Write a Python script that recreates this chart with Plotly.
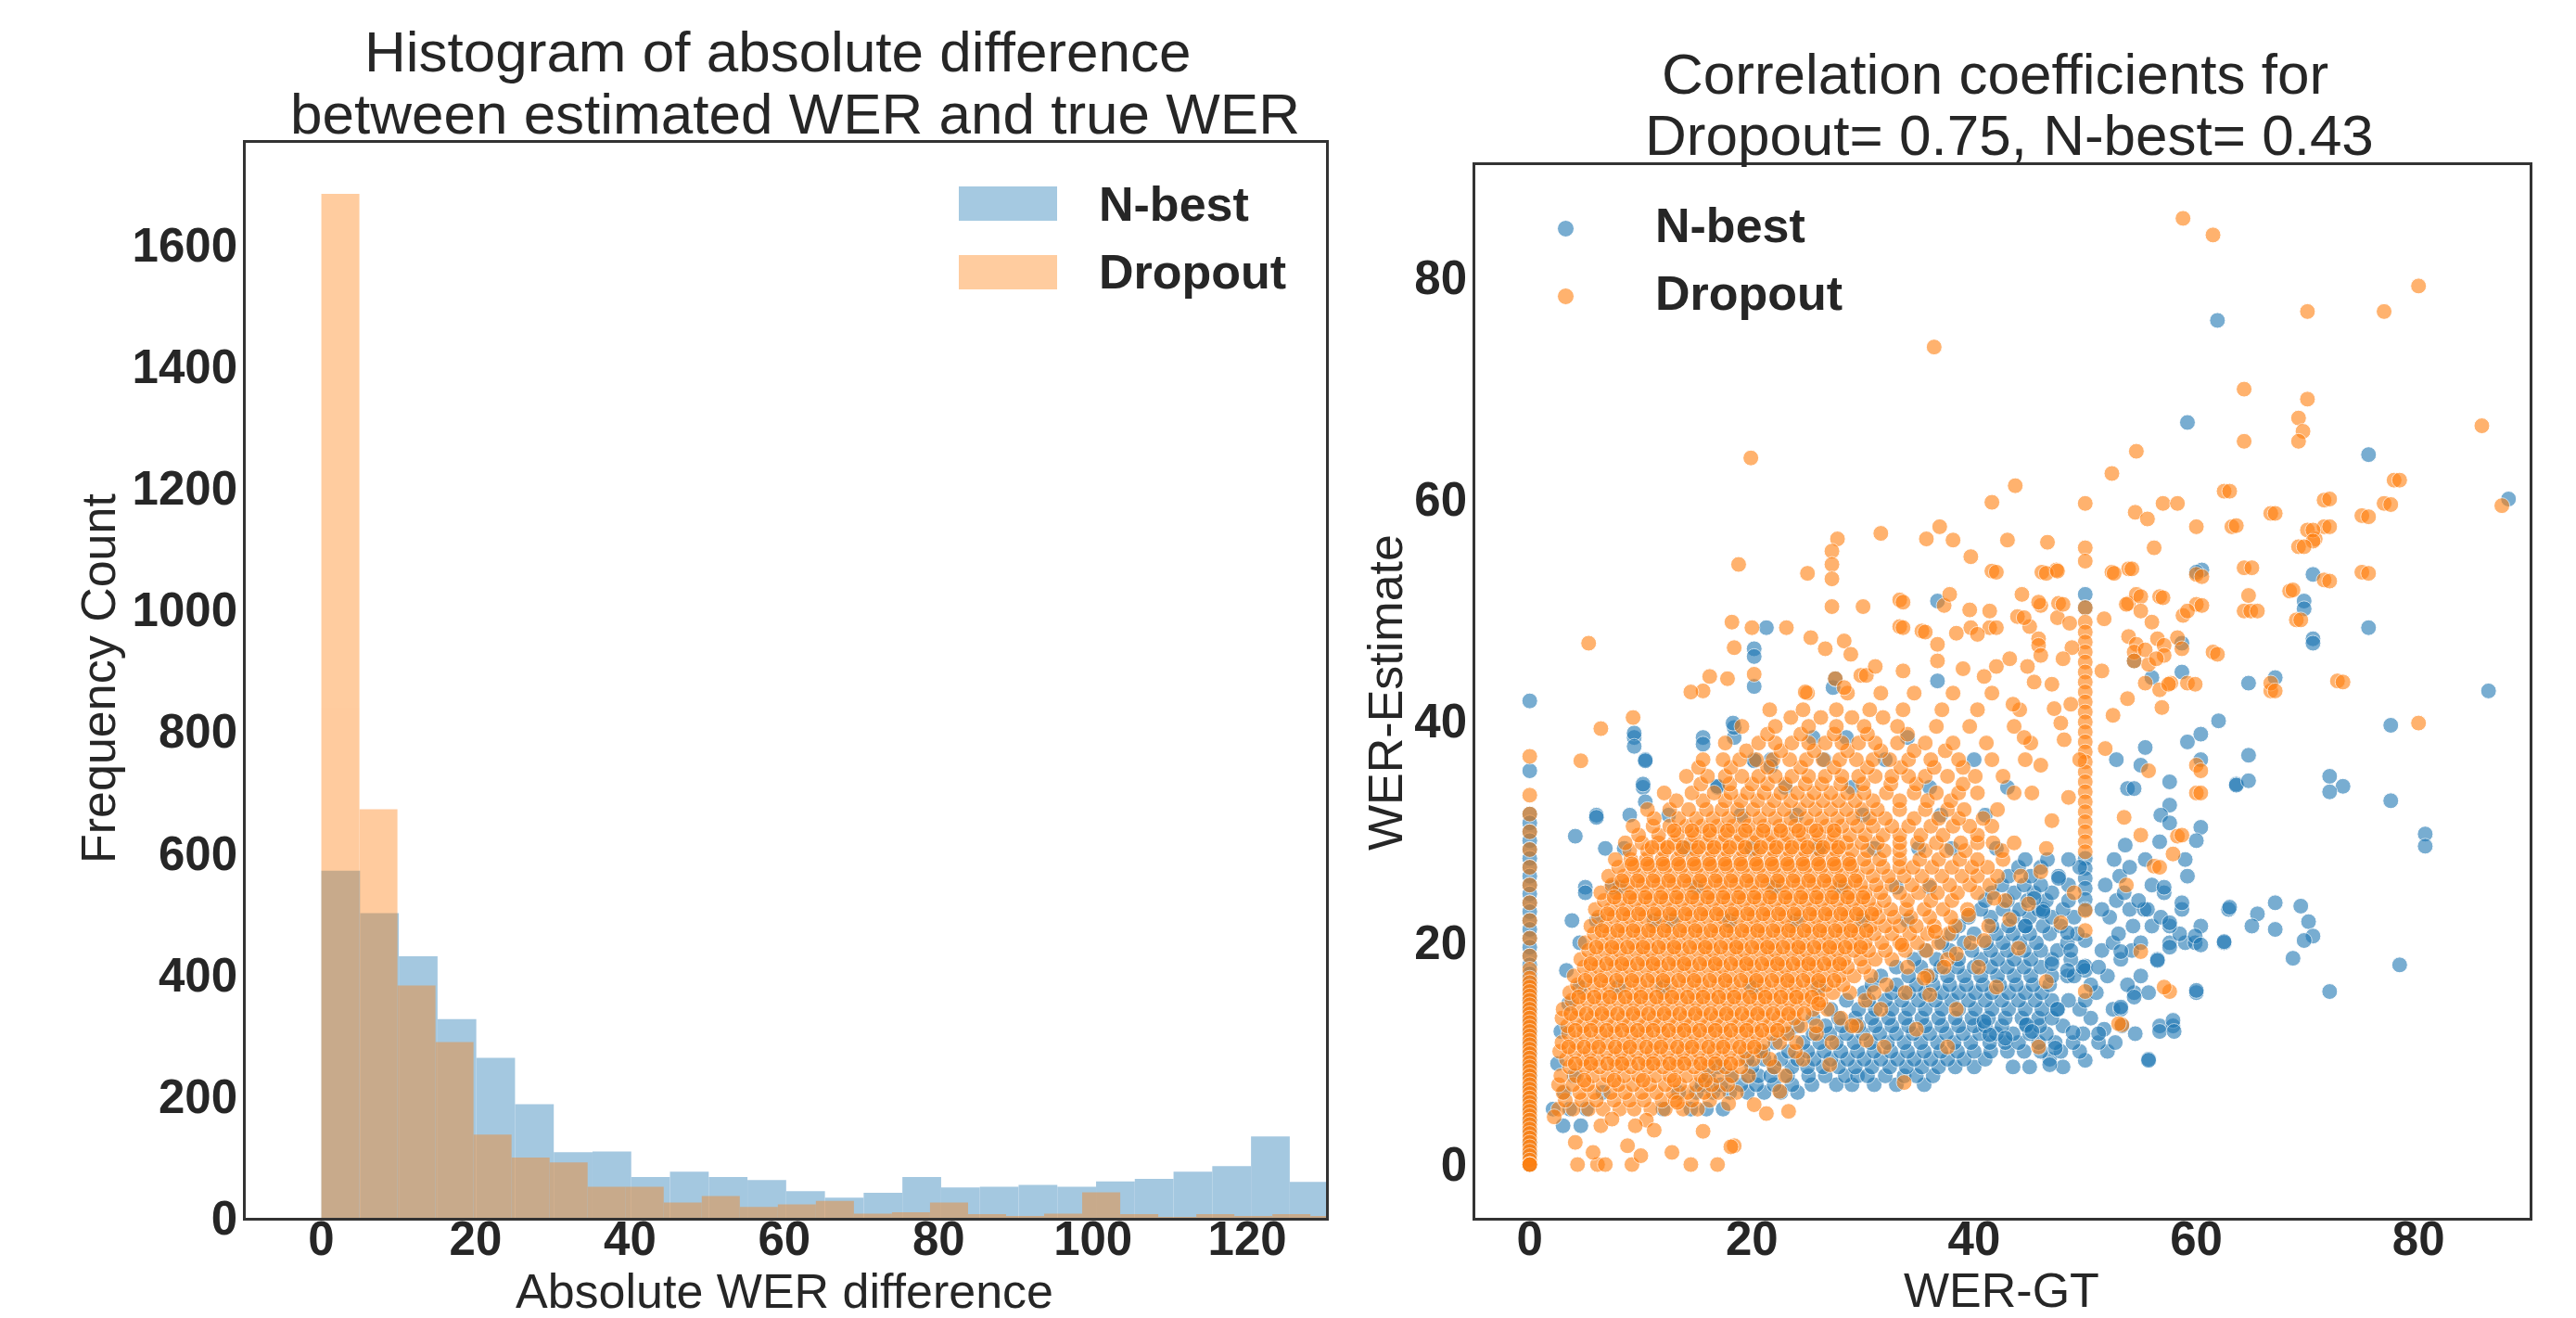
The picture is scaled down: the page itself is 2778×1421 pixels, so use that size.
import plotly.graph_objects as go

# ---------------- histogram data ----------------
nbest_bin_width = 5.02
nbest_counts = [571, 501, 430, 327, 263, 187, 108, 109, 67, 76, 67, 62, 44, 33,
                41, 67, 50, 51, 54, 51, 60, 64, 76, 85, 134, 59, 13]
dropout_bin_width = 4.93
dropout_counts = [1684, 672, 382, 289, 137, 99, 91, 51, 51, 25, 36, 18, 22, 28,
                  7, 9, 25, 6, 3, 7, 42, 6, 1, 6, 3, 6, 3]
hist_x_ticks = [0, 20, 40, 60, 80, 100, 120]
hist_y_ticks = [0, 200, 400, 600, 800, 1000, 1200, 1400, 1600]

# ---------------- scatter data (WER-GT, WER-Estimate) ----------------
scatter_x_ticks = [0, 20, 40, 60, 80]
scatter_y_ticks = [0, 20, 40, 60, 80]

nbest_zero_y = [41.8, 35.5, 31.6, 30.8, 30.0, 29.2, 28.4, 27.6, 26.8, 26.0, 25.2, 24.4,
                23.6, 22.8, 22.0, 21.2, 20.4, 19.6, 18.8, 18.0, 17.2, 16.4, 15.6, 14.8,
                14.0, 13.0, 12.0, 11.0, 10.0, 9.0, 8.0, 7.0, 6.0, 5.0, 4.0, 3.0, 2.0, 1.0, 0.0]
nbest_fifty_y = [51.4, 50.2, 27.6, 26.7, 25.8, 24.9, 23.9, 23.0, 20.2, 17.9, 17.5, 9.4]
nbest_rows = [
    (3.5, [3.0, 4.6]),
    (5.0, [2.1, 3.6, 5.1, 12.0, 14.5, 15.9, 17.4]),
    (6.5, [3.1, 6.6, 13.4, 15.0, 16.5, 18.0, 19.6, 21.1, 22.6, 24.1]),
    (7.2, [15.5, 17.2, 19.0, 20.4, 22.0, 23.6, 25.4, 27.6, 29.0, 31.0, 33.0, 35.5]),
    (8.0, [4.0, 16.1, 18.1, 19.6, 20.6, 21.7, 23.2, 25.1, 26.6, 28.4, 29.5, 30.4, 32.0, 33.7, 34.8, 36.3]),
    (8.8, [17.0, 20.0, 22.0, 23.6, 25.0, 26.4, 27.8, 29.3, 30.8, 32.4, 33.9, 35.3, 36.8, 38.3, 40.0, 43.5, 45.0, 48.0]),
    (9.5, [19.6, 21.1, 22.6, 24.1, 25.6, 27.1, 28.6, 30.1, 31.6, 33.1, 34.6, 36.1, 37.6, 39.1, 41.0, 46.8, 55.7]),
    (10.2, [21.0, 23.3, 25.0, 26.5, 28.0, 29.5, 31.0, 32.5, 34.0, 35.5, 37.0, 38.5, 40.0, 41.5, 43.0, 44.5, 46.0, 47.8, 49.5, 52.0]),
    (11.0, [22.1, 24.6, 26.1, 27.6, 29.2, 30.7, 32.2, 33.7, 35.2, 36.7, 38.2, 39.7, 41.4, 42.8, 44.0, 45.8, 47.3, 48.9, 51.2, 52.7]),
    (11.8, [23.3, 25.5, 27.0, 28.5, 30.0, 31.5, 33.0, 34.5, 36.0, 37.5, 39.0, 40.5, 42.0, 43.5, 45.0, 46.5, 49.8, 54.5]),
    (12.5, [24.1, 26.6, 28.1, 29.6, 31.1, 32.6, 34.1, 35.6, 37.1, 38.6, 40.0, 41.0, 42.5, 44.7, 45.9, 48.0, 53.3, 56.7, 57.9]),
    (13.2, [25.5, 27.8, 29.3, 30.8, 32.3, 33.8, 35.3, 36.8, 38.3, 39.8, 41.3, 42.8, 44.3, 45.8, 47.0, 50.5]),
    (14.0, [27.1, 29.6, 31.1, 32.6, 34.1, 35.6, 37.1, 38.6, 40.1, 41.6, 43.1, 44.6, 46.1, 47.5, 49.5, 52.5, 53.2]),
    (14.8, [28.5, 30.5, 32.0, 33.5, 35.0, 36.5, 38.0, 39.5, 41.0, 42.5, 44.0, 45.5, 47.0, 48.5, 50.0]),
    (15.5, [30.1, 32.6, 34.1, 35.6, 37.1, 38.6, 40.1, 41.6, 43.1, 44.6, 46.1, 51.0, 54.4, 55.7, 60.0]),
    (16.0, [4.5, 8.0, 12.0, 20.0, 26.0]),
    (16.2, [30.8, 33.0, 34.8, 36.3, 37.8, 39.3, 40.8, 42.3, 43.8, 45.3, 46.8, 50.5, 53.8]),
    (17.0, [31.6, 34.1, 36.1, 37.6, 39.1, 40.6, 42.1, 43.6, 45.1, 47.0, 48.4, 49.0, 52.0, 55.0]),
    (17.8, [33.0, 35.2, 37.0, 38.5, 40.0, 41.5, 43.0, 44.5, 46.0, 49.8, 51.2]),
    (18.5, [34.6, 36.6, 38.6, 40.6, 42.1, 43.6, 45.1, 47.0, 48.7, 53.2, 56.5]),
    (19.3, [35.6, 37.8, 39.8, 41.5, 43.0, 44.5, 46.0, 47.5, 51.5, 54.2]),
    (20.0, [37.1, 39.1, 41.1, 42.6, 44.1, 45.6, 48.4, 52.5, 55.0, 57.6, 59.0, 59.9, 62.5]),
    (20.8, [38.0, 40.0, 42.0, 43.5, 45.0, 46.8, 49.3, 53.0, 58.5]),
    (21.5, [38.6, 41.6, 43.1, 44.6, 46.2, 47.8, 54.3, 56.0, 57.6, 60.4]),
    (22.0, [6.0, 11.2, 12.8, 18.0, 24.0, 30.0, 34.0]),
    (22.3, [39.5, 41.5, 43.5, 45.0, 47.0, 49.0, 52.2, 56.8]),
    (23.0, [40.6, 42.6, 44.1, 45.8, 46.2, 48.0, 51.5, 54.0, 55.3, 55.6, 58.7, 62.9]),
    (23.8, [41.0, 43.0, 44.8, 46.5, 48.5, 52.8, 54.8]),
    (24.5, [41.6, 43.6, 45.4, 47.0, 53.5, 57.1]),
    (25.0, [5.0, 7.4, 8.1, 15.0, 22.0, 28.0, 33.0, 36.0]),
    (25.2, [42.5, 44.5, 46.0, 48.5, 51.8, 56.0]),
    (26.0, [43.1, 45.1, 47.6, 53.1, 59.2]),
    (26.8, [44.0, 46.0, 49.5, 54.0]),
    (27.5, [44.6, 46.6, 48.5, 52.6, 55.4, 59.0]),
    (28.5, [6.8, 8.5, 14.0, 20.0, 26.0, 31.0, 35.0, 38.0, 42.0]),
    (31.5, [6.0, 9.0, 12.5, 19.0, 24.0, 30.0, 37.0, 41.0]),
    (34.0, [10.2, 16.9, 23.0, 29.0, 36.0, 43.0]),
    (36.5, [10.4, 20.2, 21.7, 26.5, 32.0, 40.0]),
    (38.5, [9.4, 15.6, 18.4, 25.5, 28.5, 34.0]),
]
nbest_points = [
    (20.2, 43.1), (20.2, 46.5), (20.2, 45.8), (21.3, 48.4), (27.3, 43.0), (27.5, 43.8),
    (36.7, 50.8), (36.7, 43.6), (9.4, 38.9), (9.4, 37.7), (10.4, 36.4), (10.2, 34.3),
    (10.4, 32.7), (15.6, 37.9), (16.9, 34.1), (18.4, 39.4), (20.2, 36.4), (21.7, 35.9),
    (18.3, 39.8), (2.5, 9.1), (3.3, 17.5), (2.8, 12.0), (3.5, 14.5), (4.1, 29.6),
    (5.0, 24.5), (6.0, 31.3), (4.5, 20.0), (3.8, 22.0),
    (53.6, 28.8), (56.7, 29.1), (57.6, 34.5), (57.6, 32.4), (56.8, 31.5), (57.6, 30.8),
    (60.4, 30.4), (55.4, 37.6), (55.0, 36.0), (52.8, 36.5), (53.8, 33.9), (54.4, 33.9),
    (62.0, 40.0), (59.2, 38.1), (60.4, 38.8), (60.4, 36.5), (63.6, 34.3), (60.0, 29.2),
    (57.1, 25.0), (58.7, 23.6), (57.6, 21.8), (59.9, 20.6), (60.4, 19.8), (57.6, 19.6),
    (57.9, 13.0), (56.7, 12.0), (55.7, 9.4), (51.7, 12.2), (51.2, 11.8), (53.2, 19.2),
    (56.5, 18.4), (54.4, 15.1), (53.2, 14.2), (47.3, 10.5), (46.8, 9.0), (44.7, 12.6),
    (45.2, 12.0), (42.8, 11.4), (41.4, 11.7), (40.9, 12.9), (48.9, 11.9), (47.5, 14.0),
    (47.0, 18.1), (48.4, 17.5), (48.7, 19.3), (48.4, 20.9), (46.2, 22.8), (47.6, 25.8),
    (45.4, 24.0), (44.6, 21.5),
    (64.7, 43.4), (64.7, 36.9), (63.6, 34.2), (64.7, 34.6), (72.0, 35.0), (73.2, 34.1),
    (72.0, 33.6), (77.5, 32.8), (80.6, 29.8), (80.6, 28.7), (63.0, 23.2), (65.5, 22.6),
    (65.0, 21.5), (67.1, 23.6), (67.1, 21.2), (69.4, 23.3), (70.1, 21.9), (70.5, 20.6),
    (69.7, 20.2), (68.7, 18.6), (78.3, 18.0), (72.0, 15.6), (77.5, 39.6), (86.3, 42.7),
    (75.5, 48.4), (70.5, 47.4), (70.5, 47.0), (69.7, 50.8), (69.7, 50.1), (70.5, 53.2),
    (75.5, 64.0), (88.1, 60.0), (59.2, 66.9), (61.9, 76.1), (60.5, 53.6), (56.0, 43.9),
    (58.7, 44.4), (58.7, 47.0), (54.4, 45.4), (67.1, 43.9), (60.0, 53.4), (62.5, 20.1),
    (60.0, 15.7), (58.0, 12.0),
]

dropout_zero_y = [36.8, 33.3, 31.6, 30.0, 28.4, 26.8, 25.2, 23.6, 22.0, 20.4, 18.8, 17.6,
                  16.8, 16.4, 16.0, 15.6, 15.2, 14.8, 14.4, 14.0, 13.6, 13.2, 12.8, 12.4,
                  12.0, 11.6, 11.2, 10.8, 10.4, 10.0, 9.6, 9.2, 8.8, 8.4, 8.0, 7.6, 7.2,
                  6.8, 6.4, 6.0, 5.6, 5.2, 4.8, 4.4, 4.0, 3.6, 3.2, 2.8, 2.4, 2.0, 1.6,
                  1.2, 0.8, 0.4, 0.0, 0.0, 0.0]
dropout_fifty_y = [59.6, 55.6, 54.4, 50.2, 48.9, 48.0, 47.1, 46.2, 45.3, 44.4, 43.5, 42.6,
                   41.7, 40.8, 39.9, 39.0, 38.1, 37.2, 36.3, 35.4, 34.5, 33.6, 32.7, 31.8,
                   30.9, 30.0, 29.1, 28.2, 22.9, 21.1, 15.6]
dropout_rows = [
    (5.0, [2.6, 3.9, 5.3, 6.6, 8.1, 9.4, 10.9, 12.2, 13.8, 15.1]),
    (5.8, [3.2, 4.7, 6.0, 7.6, 9.0, 10.3, 11.9, 13.1, 14.6, 16.2]),
    (6.5, [3.0, 4.5, 5.8, 7.3, 8.6, 10.1, 11.4, 12.9, 14.2, 15.7, 17.0, 18.6]),
    (7.2, [2.6, 3.9, 5.2, 6.6, 8.0, 9.3, 10.8, 12.2, 13.5, 15.0, 16.4, 17.8]),
    (8.0, [2.8, 4.2, 5.7, 7.0, 8.5, 9.8, 11.3, 12.6, 14.1, 15.4, 16.9, 18.2, 19.7, 23.0]),
    (8.8, [3.6, 5.0, 6.3, 7.8, 9.1, 10.6, 12.0, 13.3, 14.8, 16.1, 17.6, 19.0, 22.0]),
    (9.5, [3.3, 4.8, 6.1, 7.6, 8.9, 10.4, 11.7, 13.2, 14.5, 16.0, 17.3, 18.8, 20.1, 21.6, 24.6]),
    (10.2, [2.7, 4.1, 5.4, 6.9, 8.2, 9.6, 11.0, 12.4, 13.8, 15.2, 16.6, 18.0, 19.4, 20.8, 23.9]),
    (11.0, [2.9, 4.2, 5.7, 7.0, 8.5, 9.8, 11.3, 12.6, 14.1, 15.4, 16.9, 18.2, 19.7, 21.0, 22.5, 24.0, 27.2]),
    (11.8, [3.5, 4.9, 6.4, 7.7, 9.2, 10.5, 12.0, 13.4, 14.8, 16.2, 17.6, 19.0, 20.4, 21.8, 23.2, 25.8]),
    (12.5, [3.4, 4.8, 6.1, 7.6, 8.9, 10.4, 11.7, 13.2, 14.5, 16.0, 17.3, 18.8, 20.1, 21.6, 22.9, 24.4, 25.8, 29.4]),
    (13.2, [2.9, 4.2, 5.6, 7.0, 8.4, 9.8, 11.2, 12.6, 14.0, 15.4, 16.8, 18.2, 19.6, 21.0, 22.4, 23.8, 28.0]),
    (14.0, [3.0, 4.4, 5.9, 7.2, 8.7, 10.0, 11.5, 12.8, 14.3, 15.6, 17.1, 18.4, 19.9, 21.2, 22.7, 24.0, 25.5, 26.8, 31.6]),
    (14.8, [3.8, 5.2, 6.6, 8.0, 9.4, 10.8, 12.2, 13.6, 15.0, 16.4, 17.8, 19.2, 20.6, 22.0, 23.4, 24.8, 26.2, 30.2]),
    (15.5, [3.6, 4.9, 6.4, 7.7, 9.2, 10.5, 12.0, 13.3, 14.8, 16.1, 17.6, 18.9, 20.4, 21.7, 23.2, 24.5, 26.0, 27.3, 28.8, 33.8]),
    (16.2, [4.3, 5.8, 7.1, 8.6, 9.9, 11.4, 12.7, 14.2, 15.5, 17.0, 18.3, 19.8, 21.1, 22.6, 23.9, 25.4, 26.7, 28.2, 32.1]),
    (17.0, [4.0, 5.5, 6.8, 8.3, 9.6, 11.1, 12.4, 13.9, 15.2, 16.7, 18.0, 19.5, 20.8, 22.3, 23.6, 25.1, 26.4, 27.9, 29.2, 30.7, 35.8]),
    (17.8, [4.9, 6.2, 7.7, 9.0, 10.5, 11.8, 13.3, 14.6, 16.1, 17.4, 18.9, 20.2, 21.7, 23.0, 24.5, 25.8, 27.3, 28.6, 30.1, 34.0]),
    (18.5, [4.6, 5.9, 7.4, 8.7, 10.2, 11.5, 13.0, 14.3, 15.8, 17.1, 18.6, 19.9, 21.4, 22.7, 24.2, 25.5, 27.0, 28.3, 29.8, 31.1, 32.6, 37.6]),
    (19.3, [5.3, 6.8, 8.1, 9.6, 10.9, 12.4, 13.7, 15.2, 16.5, 18.0, 19.3, 20.8, 22.1, 23.6, 24.9, 26.4, 27.7, 29.2, 30.5, 32.0, 33.8, 35.7]),
    (20.0, [5.0, 6.5, 7.8, 9.3, 10.6, 12.1, 13.4, 14.9, 16.2, 17.7, 19.0, 20.5, 21.8, 23.3, 24.6, 26.1, 27.4, 28.9, 30.2, 31.7, 33.3, 34.9, 36.8, 39.7]),
    (20.8, [5.8, 7.2, 8.6, 10.0, 11.4, 12.8, 14.2, 15.6, 17.0, 18.4, 19.8, 21.2, 22.6, 24.0, 25.4, 26.8, 28.2, 29.6, 31.0, 32.6, 34.2, 35.8, 37.7]),
    (21.5, [5.5, 6.8, 8.3, 9.6, 11.1, 12.4, 13.9, 15.2, 16.7, 18.0, 19.5, 20.8, 22.3, 23.6, 25.1, 26.4, 27.9, 29.2, 30.7, 32.0, 33.3, 34.8, 36.4, 38.3, 41.3]),
    (22.3, [6.2, 7.6, 9.0, 10.4, 11.8, 13.2, 14.6, 16.0, 17.4, 18.8, 20.2, 21.6, 23.0, 24.4, 25.8, 27.2, 28.6, 30.0, 31.4, 32.8, 34.3, 36.0, 37.9]),
    (23.0, [5.9, 7.3, 8.7, 10.1, 11.5, 12.9, 14.3, 15.7, 17.1, 18.5, 19.9, 21.3, 22.7, 24.1, 25.5, 26.9, 28.3, 29.7, 31.1, 32.5, 33.9, 35.5, 37.2, 39.4]),
    (23.8, [6.7, 8.1, 9.5, 10.9, 12.3, 13.7, 15.1, 16.5, 17.9, 19.3, 20.7, 22.1, 23.5, 24.9, 26.3, 27.7, 29.1, 30.5, 31.9, 34.0, 36.1, 38.0, 42.8]),
    (24.5, [6.4, 7.8, 9.2, 10.6, 12.0, 13.4, 14.8, 16.2, 17.6, 19.0, 20.4, 21.8, 23.2, 24.6, 26.0, 27.4, 28.8, 30.2, 31.6, 33.3, 35.0, 36.7, 38.5, 40.3]),
    (25.2, [7.4, 8.8, 10.2, 11.6, 13.0, 14.4, 15.8, 17.2, 18.6, 20.0, 21.4, 22.8, 24.2, 25.6, 27.0, 28.4, 29.8, 31.2, 32.6, 34.4, 36.0, 37.8, 39.6, 41.4]),
    (26.0, [7.1, 8.5, 9.9, 11.3, 12.7, 14.1, 15.5, 16.9, 18.3, 19.7, 21.1, 22.5, 23.9, 25.3, 26.7, 28.1, 29.5, 30.9, 32.3, 33.7, 35.3, 37.1, 38.9, 40.3, 42.1, 44.2]),
    (26.8, [8.0, 9.4, 10.8, 12.2, 13.6, 15.0, 16.4, 17.8, 19.2, 20.6, 22.0, 23.4, 24.8, 26.2, 27.6, 29.0, 30.4, 31.8, 33.3, 34.5, 36.2, 38.0, 39.8, 41.2]),
    (27.5, [7.7, 9.1, 10.5, 11.9, 13.3, 14.7, 16.1, 17.5, 18.9, 20.3, 21.7, 23.1, 24.5, 25.9, 27.3, 28.7, 30.1, 31.5, 33.3, 35.1, 36.8, 38.7, 40.3, 42.6]),
    (28.3, [9.0, 10.6, 12.1, 13.6, 15.0, 16.4, 17.8, 19.2, 20.6, 22.0, 23.4, 24.8, 26.2, 27.6, 29.0, 30.4, 31.9, 33.3, 35.6, 37.5, 39.2, 42.5]),
    (29.0, [8.6, 10.1, 11.6, 13.0, 14.5, 15.9, 17.3, 18.7, 20.1, 21.5, 22.9, 24.3, 25.7, 27.1, 28.5, 29.9, 31.3, 33.3, 34.9, 36.6, 38.8, 40.3, 41.7, 43.6]),
    (29.7, [9.8, 11.6, 13.3, 14.8, 16.2, 17.6, 19.0, 20.4, 21.8, 23.2, 24.6, 26.0, 27.4, 28.8, 30.2, 31.8, 33.3, 35.2, 37.2, 40.3]),
    (30.5, [9.3, 11.1, 12.6, 14.1, 15.5, 16.9, 18.3, 19.7, 21.1, 22.5, 23.9, 25.3, 26.7, 28.1, 29.5, 30.9, 32.6, 34.1, 36.1, 38.1, 39.6, 41.6]),
    (31.2, [11.2, 13.4, 15.0, 16.5, 17.9, 19.3, 20.7, 22.1, 23.5, 24.9, 26.3, 27.7, 29.1, 30.6, 32.0, 34.6, 36.8, 38.6, 40.8]),
    (32.0, [10.6, 12.6, 14.3, 15.9, 17.3, 18.7, 20.1, 21.5, 22.9, 24.3, 25.7, 27.1, 28.5, 29.9, 31.3, 33.3, 35.6, 37.6, 39.1, 42.1]),
    (32.8, [13.2, 15.6, 17.6, 19.0, 20.5, 22.0, 23.5, 25.0, 26.4, 27.8, 29.3, 30.9, 33.3, 35.8, 37.9]),
    (33.5, [12.1, 14.6, 16.6, 18.1, 19.6, 21.1, 22.6, 24.1, 25.6, 27.1, 28.6, 30.1, 32.1, 34.6, 36.6, 38.6, 40.3, 43.6]),
    (34.3, [15.4, 18.0, 20.0, 21.4, 23.0, 24.8, 26.3, 28.0, 30.0, 32.5, 34.8, 39.0]),
    (35.0, [14.1, 16.0, 17.6, 19.1, 20.6, 22.1, 23.6, 25.1, 26.6, 28.1, 29.6, 31.1, 32.6, 34.1, 35.6, 37.6, 40.1, 42.6]),
    (35.8, [15.2, 18.1, 21.4, 24.4, 27.4, 30.4, 33.4, 36.4, 39.0]),
    (36.5, [15.6, 17.4, 18.9, 20.4, 21.9, 23.4, 24.9, 26.4, 27.9, 29.4, 30.9, 32.4, 34.1, 36.1, 38.6, 41.6, 44.6]),
    (37.3, [19.5, 22.6, 25.6, 28.6, 31.6, 34.6, 37.4]),
    (38.0, [17.6, 20.6, 22.1, 23.6, 25.1, 26.6, 28.1, 29.6, 31.1, 33.1, 35.6, 38.1, 41.1, 45.1]),
    (38.8, [21.4, 24.4, 27.4, 30.4, 34.0]),
    (39.5, [19.1, 22.1, 25.1, 27.6, 30.1, 33.1, 36.6, 39.6, 43.6]),
    (40.3, [23.5, 26.2, 29.0, 31.8]),
    (41.0, [21.6, 24.6, 27.6, 30.6, 33.6, 37.1, 40.3, 44.1]),
    (42.5, [25.0, 28.6, 31.6, 34.6, 38.1, 41.6]),
]
dropout_core_rows = [
    (7.6, [4.9, 7.6, 10.2, 13.0, 15.8]),
    (9.1, [4.1, 5.5, 7.0, 8.3, 9.8, 11.1, 12.6, 13.9, 15.4, 16.7, 18.1]),
    (10.6, [3.5, 4.9, 6.2, 7.7, 9.0, 10.5, 11.8, 13.3, 14.6, 16.1, 17.4, 18.9, 20.2]),
    (12.1, [4.1, 5.5, 6.9, 8.3, 9.7, 11.1, 12.5, 13.9, 15.3, 16.7, 18.1, 19.5, 20.9, 22.3]),
    (13.6, [3.7, 5.1, 6.5, 7.9, 9.3, 10.7, 12.1, 13.5, 14.9, 16.3, 17.7, 19.1, 20.5, 21.9, 23.3, 24.7]),
    (15.1, [4.4, 5.8, 7.2, 8.6, 10.0, 11.4, 12.8, 14.2, 15.6, 17.0, 18.4, 19.8, 21.2, 22.6, 24.0, 25.4]),
    (16.6, [5.0, 6.4, 7.8, 9.2, 10.6, 12.0, 13.4, 14.8, 16.2, 17.6, 19.0, 20.4, 21.8, 23.2, 24.6, 26.0, 27.4]),
    (18.1, [5.5, 6.9, 8.3, 9.7, 11.1, 12.5, 13.9, 15.3, 16.7, 18.1, 19.5, 20.9, 22.3, 23.7, 25.1, 26.5, 27.9]),
    (19.6, [6.0, 7.4, 8.8, 10.2, 11.6, 13.0, 14.4, 15.8, 17.2, 18.6, 20.0, 21.4, 22.8, 24.2, 25.6, 27.0, 28.4, 29.8]),
    (21.1, [6.5, 7.9, 9.3, 10.7, 12.1, 13.5, 14.9, 16.3, 17.7, 19.1, 20.5, 21.9, 23.3, 24.7, 26.1, 27.5, 28.9, 30.3]),
    (22.6, [7.0, 8.4, 9.8, 11.2, 12.6, 14.0, 15.4, 16.8, 18.2, 19.6, 21.0, 22.4, 23.8, 25.2, 26.6, 28.0, 29.4, 30.8]),
    (24.1, [7.6, 9.0, 10.4, 11.8, 13.2, 14.6, 16.0, 17.4, 18.8, 20.2, 21.6, 23.0, 24.4, 25.8, 27.2, 28.6, 30.0]),
    (25.6, [8.3, 9.7, 11.1, 12.5, 13.9, 15.3, 16.7, 18.1, 19.5, 20.9, 22.3, 23.7, 25.1, 26.5, 27.9, 29.3]),
    (27.1, [9.2, 10.6, 12.0, 13.4, 14.8, 16.2, 17.6, 19.0, 20.4, 21.8, 23.2, 24.6, 26.0, 27.4, 28.8]),
    (28.6, [11.0, 12.4, 13.8, 15.2, 16.6, 18.0, 19.4, 20.8, 22.2, 23.6, 25.0, 26.4, 27.8]),
    (30.1, [13.0, 14.6, 16.2, 17.8, 19.4, 21.0, 22.6, 24.2, 25.8, 27.4]),
]
dropout_low = [
    (4.3, 0.0), (6.1, 0.0), (6.8, 0.0), (9.2, 0.0), (14.5, 0.0), (16.9, 0.0), (4.1, 2.0),
    (5.7, 1.1), (8.8, 1.7), (10.0, 0.8), (12.8, 1.1), (18.4, 1.7), (18.1, 1.6), (15.6, 3.0),
    (2.2, 4.3), (6.4, 3.5), (7.4, 4.1), (10.5, 4.0), (11.2, 3.1), (9.5, 3.5), (20.2, 5.4),
    (21.3, 4.6), (23.3, 4.8), (17.9, 5.5), (13.3, 5.6), (33.7, 7.4), (45.8, 10.6),
    (57.6, 15.6), (53.3, 12.6), (22.5, 6.6),
    (30.3, 11.2), (31.9, 10.6), (34.8, 12.2), (36.0, 15.3), (37.3, 17.8), (38.4, 19.0),
    (38.4, 14.0), (40.4, 17.8), (40.9, 20.2), (43.2, 22.1), (37.6, 10.6), (44.0, 19.5),
    (42.0, 16.0), (35.5, 16.8), (39.5, 22.5), (41.8, 24.0), (27.0, 9.0), (29.0, 12.5),
    (26.0, 14.5), (31.0, 15.5), (33.5, 19.8), (36.5, 21.0),
]
dropout_points = [
    (58.8, 85.3), (61.5, 83.8), (80.0, 79.2), (70.0, 76.9), (76.9, 76.9), (36.4, 73.7),
    (64.3, 69.9), (70.0, 69.0), (69.2, 67.3), (69.6, 66.1), (69.2, 65.2), (64.3, 65.2),
    (85.7, 66.6), (54.6, 64.3), (52.4, 62.3), (19.9, 63.7), (77.8, 61.7), (62.5, 60.7),
    (43.7, 61.2), (71.5, 59.9), (76.9, 59.6), (57.0, 59.6), (58.3, 59.6), (41.6, 59.7),
    (87.5, 59.4), (54.5, 58.8), (66.7, 58.7), (74.9, 58.5), (70.0, 57.2), (71.5, 57.5),
    (63.2, 57.5), (60.0, 57.5), (55.6, 58.2), (31.6, 56.9), (27.7, 56.4), (36.9, 57.5),
    (35.7, 56.4), (38.1, 56.3), (43.0, 56.3), (46.6, 56.1), (56.2, 55.6), (27.2, 55.3),
    (69.2, 55.7), (70.7, 56.4), (27.2, 54.1), (27.2, 52.8), (18.8, 54.1), (25.0, 53.3),
    (39.7, 54.8), (41.6, 53.5), (46.1, 53.4), (47.4, 53.6), (52.4, 53.4), (53.9, 53.7),
    (60.0, 53.2), (64.3, 53.8), (74.9, 53.4), (68.4, 51.7), (71.5, 52.7), (53.9, 50.6),
    (54.6, 51.4), (56.7, 51.2), (33.3, 50.9), (30.0, 50.3), (27.2, 50.3), (37.3, 50.4),
    (39.6, 50.0), (41.4, 49.9), (43.9, 49.4), (46.0, 50.4), (47.6, 50.6), (58.8, 49.5),
    (60.0, 50.5), (64.3, 49.9), (64.9, 49.9), (69.0, 49.1), (18.2, 48.9), (20.0, 48.4),
    (23.1, 48.4), (5.3, 47.0), (33.3, 48.5), (35.3, 48.1), (39.7, 48.4), (41.4, 48.4),
    (45.0, 48.5), (47.5, 49.3), (58.3, 47.5), (61.5, 46.2), (56.5, 47.4), (53.9, 47.6),
    (54.6, 46.9), (57.1, 46.8), (57.1, 45.9), (55.7, 45.1), (55.4, 43.4), (57.7, 43.4),
    (59.2, 43.4), (56.7, 42.8), (56.9, 41.2), (66.7, 42.7), (72.7, 43.6), (66.7, 43.4),
    (60.0, 36.0), (60.0, 33.5), (80.0, 39.8), (58.3, 29.6), (56.2, 26.9),
    (25.3, 47.5), (26.6, 46.5), (28.3, 47.2), (28.9, 46.0), (18.4, 46.6), (20.2, 44.2),
    (17.8, 43.8), (16.2, 44.0), (15.6, 42.7), (14.5, 42.6), (24.8, 42.6), (27.5, 43.8),
    (28.3, 43.0), (29.8, 44.1), (4.6, 36.4), (6.4, 39.3), (9.3, 40.3),
    (30.3, 44.1), (31.1, 44.9), (33.6, 44.5), (36.7, 45.4), (39.0, 44.7), (42.0, 44.9),
    (43.2, 45.6), (44.8, 44.9), (47.0, 43.3), (45.4, 43.5), (40.9, 44.0), (45.8, 47.4),
    (45.8, 46.8), (46.0, 45.9), (48.8, 46.6), (48.0, 45.6), (54.4, 46.2), (55.4, 46.4),
    (54.4, 45.4), (56.4, 45.6), (58.7, 46.5), (61.9, 46.0), (59.9, 43.3), (57.5, 43.3),
    (33.6, 48.4), (35.6, 48.0), (37.8, 51.4), (36.7, 46.9), (38.4, 47.9), (40.3, 47.8),
    (42.0, 48.4), (44.3, 51.4), (45.8, 50.7), (44.5, 49.3), (48.0, 50.5), (48.6, 48.8),
    (51.7, 49.2), (53.7, 50.5), (55.0, 51.2), (55.0, 49.9), (57.0, 51.1), (56.0, 48.9),
    (59.2, 49.9), (60.5, 53.0), (60.5, 50.4), (33.6, 50.7), (42.0, 53.4), (46.5, 53.3),
    (47.5, 53.5), (52.6, 53.3), (54.2, 53.7),
    (64.7, 51.3), (65.5, 49.9), (68.7, 51.8), (72.0, 52.6), (75.5, 53.3), (69.4, 49.1),
    (67.1, 42.7), (73.2, 43.5), (72.0, 60.0), (67.1, 58.7), (63.0, 60.7), (63.6, 57.6),
    (72.0, 57.5), (70.5, 57.2), (70.5, 56.2), (69.7, 55.7), (65.0, 53.8), (75.5, 58.4),
    (77.5, 59.5), (78.3, 61.7),
    (60.4, 35.5), (60.4, 33.5), (58.7, 29.7), (57.9, 28.0), (56.7, 26.8), (55.0, 19.2),
    (55.7, 35.5), (53.5, 31.3), (55.0, 29.7), (46.0, 26.4), (47.8, 21.8), (46.5, 16.5),
    (47.2, 41.1), (47.8, 39.8), (48.1, 38.3), (48.7, 41.5), (48.5, 33.1), (53.7, 25.2),
    (57.1, 16.0), (53.0, 12.7), (44.9, 23.5), (49.0, 24.5), (51.8, 37.5), (52.5, 40.5),
    (53.8, 42.0), (51.5, 44.5), (49.5, 36.5), (46.0, 36.0), (47.0, 31.0), (44.5, 38.5),
    (43.5, 41.5), (46.5, 28.5), (45.2, 33.5),
]

# ---------------- assemble ----------------
def collect(zero_y, fifty_y, row_lists, point_lists):
    xs, ys = [], []
    for y in zero_y:
        xs.append(0.0); ys.append(y)
    for y in fifty_y:
        xs.append(50.0); ys.append(y)
    for rows in row_lists:
        for y, row in rows:
            for x in row:
                xs.append(x); ys.append(y)
    for pts in point_lists:
        for x, y in pts:
            xs.append(x); ys.append(y)
    return xs, ys

nb_x, nb_y = collect(nbest_zero_y, nbest_fifty_y, [nbest_rows], [nbest_points])
do_x, do_y = collect(dropout_zero_y, dropout_fifty_y, [dropout_rows, dropout_core_rows],
                     [dropout_low, dropout_points])

W, H = 2778, 1421          # target picture size (positions below are in these pixels)
FIG_H = 1450               # layout height (the page is rendered vertically squeezed)
FONT = "Liberation Sans, Arial, Helvetica, sans-serif"
TXT = "#262626"
BLUE = "#1f77b4"
ORANGE = "#ff7f0e"

def px(x):
    return x / W

def py(y):
    return 1 - y / H

fig = go.Figure()

nb_centers = [(i + 0.5) * nbest_bin_width for i in range(len(nbest_counts))]
do_centers = [(i + 0.5) * dropout_bin_width for i in range(len(dropout_counts))]
fig.add_trace(go.Bar(x=nb_centers, y=nbest_counts, width=[nbest_bin_width] * len(nbest_counts),
                     marker=dict(color=BLUE, line=dict(width=0)), opacity=0.4,
                     xaxis="x", yaxis="y", showlegend=False, name="N-best"))
fig.add_trace(go.Bar(x=do_centers, y=dropout_counts, width=[dropout_bin_width] * len(dropout_counts),
                     marker=dict(color=ORANGE, line=dict(width=0)), opacity=0.4,
                     xaxis="x", yaxis="y", showlegend=False, name="Dropout"))

fig.add_trace(go.Scatter(x=nb_x, y=nb_y, mode="markers", xaxis="x2", yaxis="y2",
                         marker=dict(size=17, color=BLUE, opacity=0.6, line=dict(width=1, color="white")),
                         showlegend=False, name="N-best"))
fig.add_trace(go.Scatter(x=do_x, y=do_y, mode="markers", xaxis="x2", yaxis="y2",
                         marker=dict(size=17, color=ORANGE, opacity=0.6, line=dict(width=1, color="white")),
                         showlegend=False, name="Dropout"))

tickfont = dict(family=FONT, size=51, color=TXT, weight="bold")
x_common = dict(showline=True, mirror=True, linecolor="#333333", linewidth=2.5,
                showgrid=False, zeroline=False, ticks="", ticklabelstandoff=-24,
                tickfont=tickfont)
y_common = dict(showline=True, mirror=True, linecolor="#333333", linewidth=2.5,
                showgrid=False, zeroline=False, ticks="", ticklabelstandoff=-4,
                tickfont=tickfont)

fig.update_layout(
    width=W, height=FIG_H, autosize=False,
    margin=dict(l=0, r=0, t=0, b=0),
    paper_bgcolor="white", plot_bgcolor="white",
    barmode="overlay",
    font=dict(family=FONT, color=TXT),
    xaxis=dict(domain=[px(265), px(1430)], range=[-9.8, 130.2], tickvals=hist_x_ticks,
               anchor="y", **x_common),
    yaxis=dict(domain=[py(1313), py(154)], range=[0, 1768], tickvals=hist_y_ticks,
               anchor="x", **y_common),
    xaxis2=dict(domain=[px(1591), px(2728)], range=[-4.9, 90.0], tickvals=scatter_x_ticks,
                anchor="y2", **x_common),
    yaxis2=dict(domain=[py(1313), py(178)], range=[-4.8, 90.1], tickvals=scatter_y_ticks,
                anchor="x2", **y_common),
)

ann = []
def text(x, y, s, size, bold=False, xanchor="center", angle=0):
    ann.append(dict(x=px(x), y=py(y), xref="paper", yref="paper", text=s, showarrow=False,
                    xanchor=xanchor, yanchor="middle", textangle=angle,
                    font=dict(family=FONT, size=size, color=TXT, weight="bold" if bold else "normal")))

# titles
text(838, 56, "Histogram of absolute difference", 62)
text(857, 122, "between estimated WER and true WER", 62)
text(2151, 79, "Correlation coefficients for", 62)
text(2167, 145, "Dropout= 0.75, N-best= 0.43", 62)
# axis titles
text(846, 1392, "Absolute WER difference", 52)
text(106, 732, "Frequency Count", 52, angle=-90)
text(2158, 1391, "WER-GT", 52)
text(1494, 746, "WER-Estimate", 52, angle=-90)
# legends
text(1183, 220, "N-best", 52, bold=True, xanchor="left")
text(1183, 293, "Dropout", 52, bold=True, xanchor="left")
text(1783, 243, "N-best", 52, bold=True, xanchor="left")
text(1783, 316, "Dropout", 52, bold=True, xanchor="left")

shapes = [
    dict(type="rect", xref="paper", yref="paper", x0=px(1034), x1=px(1140), y0=py(238), y1=py(201),
         fillcolor=BLUE, opacity=0.4, line=dict(width=0)),
    dict(type="rect", xref="paper", yref="paper", x0=px(1034), x1=px(1140), y0=py(312), y1=py(275),
         fillcolor=ORANGE, opacity=0.4, line=dict(width=0)),
    dict(type="circle", xref="paper", yref="paper", x0=px(1679.5), x1=px(1697.5), y0=py(255.5), y1=py(237.5),
         fillcolor=BLUE, opacity=0.6, line=dict(width=1, color="white")),
    dict(type="circle", xref="paper", yref="paper", x0=px(1679.5), x1=px(1697.5), y0=py(328.5), y1=py(310.5),
         fillcolor=ORANGE, opacity=0.6, line=dict(width=1, color="white")),
]
fig.update_layout(annotations=ann, shapes=shapes)

fig.write_html("out.html", config={"displayModeBar": False},
               post_script="document.body.style.margin='0px';document.body.style.padding='0px';"
                           "document.documentElement.style.overflow='hidden';")
